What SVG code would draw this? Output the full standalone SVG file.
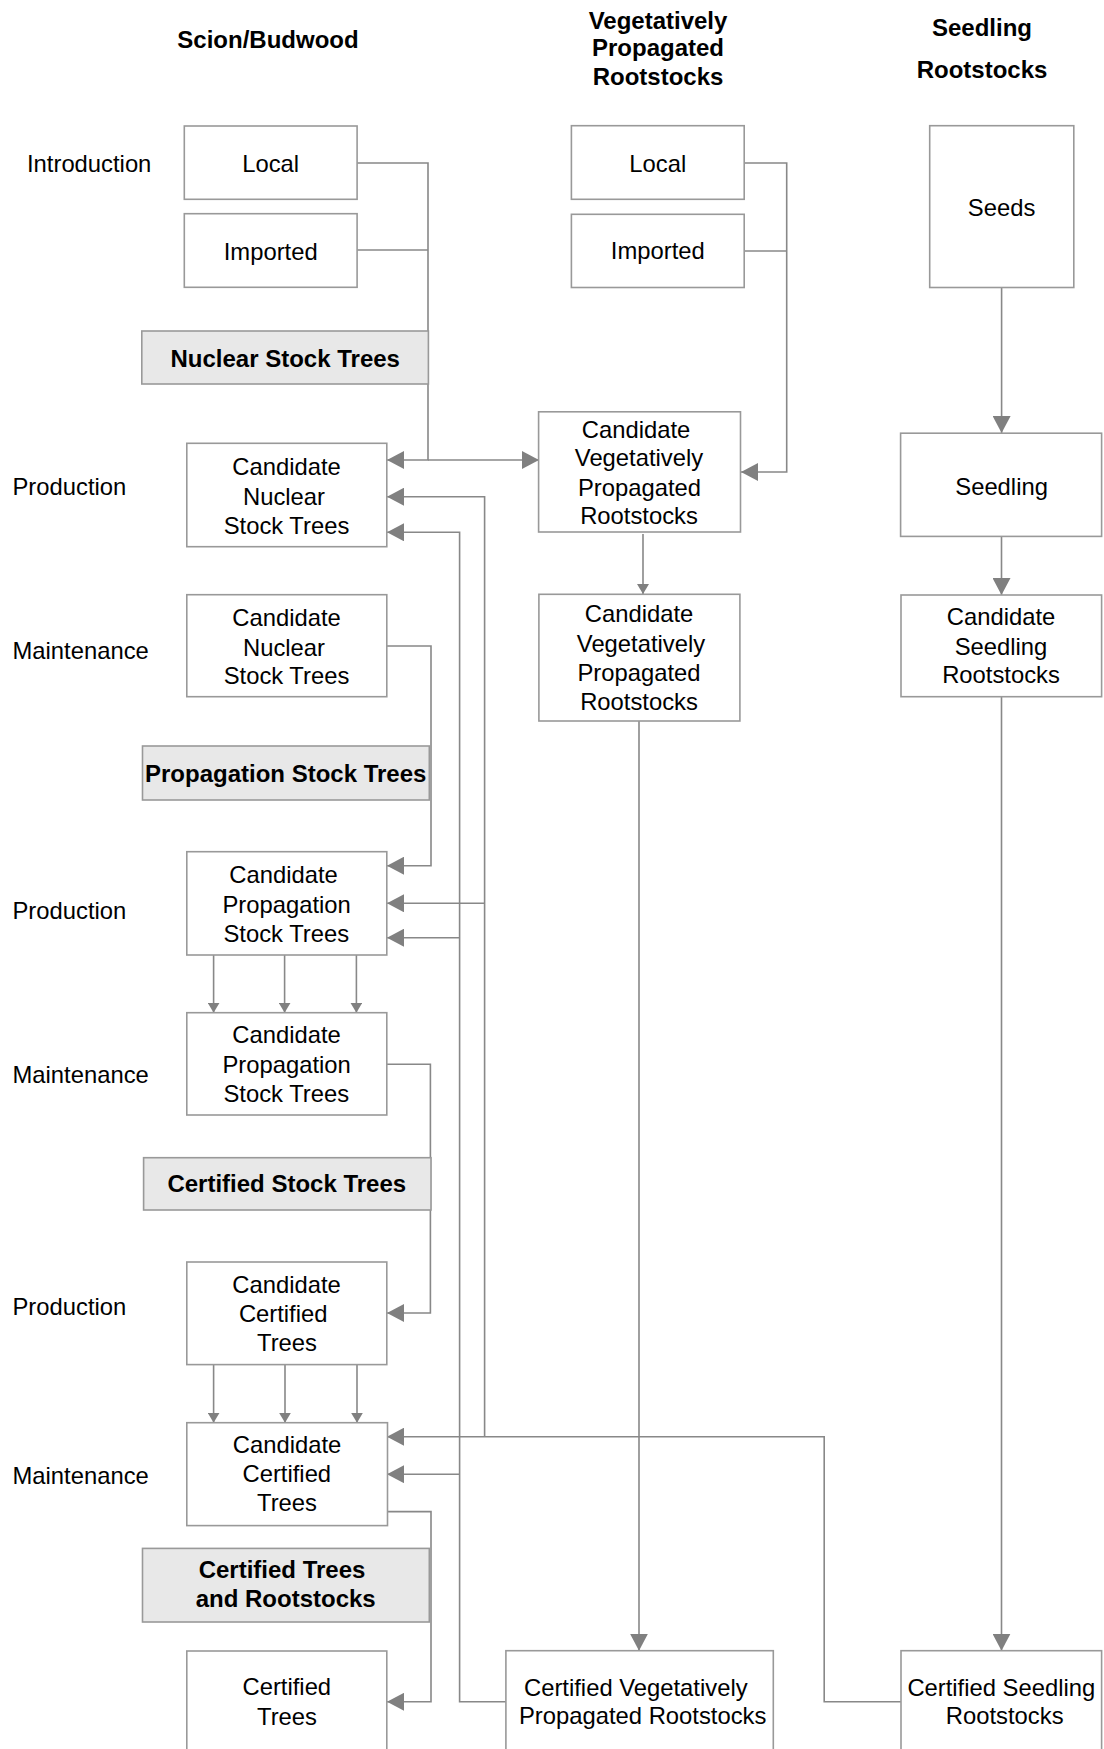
<svg xmlns="http://www.w3.org/2000/svg" width="1104" height="1749" viewBox="0 0 1104 1749">
<style>
.box{fill:#fff;stroke:#999;stroke-width:1.6}
.hdr{fill:#e8e8e8;stroke:#999;stroke-width:1.6}
.t{font-family:"Liberation Sans",Arial,sans-serif;font-size:23.8px;fill:#000;text-anchor:middle}
.b{font-family:"Liberation Sans",Arial,sans-serif;font-size:24px;font-weight:bold;fill:#000;text-anchor:middle}
.lbl{font-family:"Liberation Sans",Arial,sans-serif;font-size:23.8px;fill:#000}
.c{fill:none;stroke:#888;stroke-width:1.6}
.big{marker-end:url(#ab)}
.sm{marker-end:url(#as)}
</style>
<defs>
<marker id="ab" markerUnits="userSpaceOnUse" markerWidth="18" markerHeight="18" refX="17" refY="9" orient="auto"><path d="M0,0 L17,9 L0,18 z" fill="#808080"/></marker>
<marker id="as" markerUnits="userSpaceOnUse" markerWidth="11" markerHeight="12" refX="10" refY="6" orient="auto"><path d="M0,0 L10,6 L0,12 z" fill="#808080"/></marker>
</defs>
<rect width="1104" height="1749" fill="#fff"/>

<g id="headers">
<text class="b" x="268" y="48">Scion/Budwood</text>
<text class="b" x="658" y="28.6">Vegetatively</text>
<text class="b" x="658" y="56.4">Propagated</text>
<text class="b" x="658" y="85">Rootstocks</text>
<text class="b" x="982" y="35.7">Seedling</text>
<text class="b" x="982" y="78">Rootstocks</text>
</g>

<g id="stage-labels">
<text class="lbl" x="27" y="172">Introduction</text>
<text class="lbl" x="12.5" y="495">Production</text>
<text class="lbl" x="12.5" y="659">Maintenance</text>
<text class="lbl" x="12.5" y="919">Production</text>
<text class="lbl" x="12.5" y="1083">Maintenance</text>
<text class="lbl" x="12.5" y="1315">Production</text>
<text class="lbl" x="12.5" y="1484">Maintenance</text>
</g>

<g id="connectors">
<path class="c big" d="M357,163 H428 V460 H387"/>
<path class="c" d="M357,250 H428"/>
<path class="c big" d="M428,460 H539"/>
<path class="c big" d="M744,163 H786.7 V472 H741"/>
<path class="c" d="M744,251 H786.7"/>
<path class="c big" d="M1001.6,288 V433"/>
<path class="c sm" d="M643,534 V594"/>
<path class="c big" d="M1001.5,536.5 V595"/>
<path class="c big" d="M639,721 V1650.7"/>
<path class="c big" d="M1001.5,697 V1650.7"/>
<path class="c big" d="M387,646 H431 V865.7 H387"/>
<path class="c big" d="M901,1701.7 H824.2 V1436.7 H387"/>
<path class="c big" d="M484.6,1436.7 V496.7 H387"/>
<path class="c big" d="M484.6,903.3 H387"/>
<path class="c big" d="M506,1701.8 H459.6 V532.3 H387"/>
<path class="c big" d="M459.6,937.7 H387"/>
<path class="c big" d="M459.6,1474.2 H387"/>
<path class="c sm" d="M213.6,955 V1012.7"/>
<path class="c sm" d="M284.6,955 V1012.7"/>
<path class="c sm" d="M356.4,955 V1012.7"/>
<path class="c big" d="M387,1064.3 H430.4 V1313 H387"/>
<path class="c sm" d="M213.6,1364.6 V1422.7"/>
<path class="c sm" d="M285,1364.6 V1422.7"/>
<path class="c sm" d="M357,1364.6 V1422.7"/>
<path class="c big" d="M387,1511.6 H431 V1701.8 H387"/>
</g>

<g id="scion-local"><rect class="box" x="184.3" y="126" width="172.8" height="73.3"/><text class="t" x="270.7" y="172">Local</text></g>
<g id="scion-imported"><rect class="box" x="184.3" y="213.7" width="172.8" height="73.6"/><text class="t" x="270.7" y="259.5">Imported</text></g>
<g id="nuclear-stock-trees"><rect class="hdr" x="141.8" y="331" width="286.6" height="53"/><text class="b" x="285.2" y="366.5">Nuclear Stock Trees</text></g>
<g id="vp-local"><rect class="box" x="571.4" y="125.7" width="172.8" height="73.6"/><text class="t" x="657.8" y="172">Local</text></g>
<g id="vp-imported"><rect class="box" x="571.4" y="214.3" width="172.8" height="73.2"/><text class="t" x="657.8" y="259">Imported</text></g>
<g id="seeds"><rect class="box" x="929.7" y="125.7" width="144.1" height="161.8"/><text class="t" x="1001.6" y="216">Seeds</text></g>

<g id="cand-nuclear-prod"><rect class="box" x="186.8" y="443.3" width="200" height="103.4"/>
<text class="t" x="286.5" y="475">Candidate</text><text class="t" x="284" y="505">Nuclear</text><text class="t" x="286.5" y="534">Stock Trees</text></g>
<g id="cand-vp-prod"><rect class="box" x="538.6" y="411.8" width="201.9" height="120.2"/>
<text class="t" x="636" y="437.5">Candidate</text><text class="t" x="639" y="466">Vegetatively</text><text class="t" x="639.5" y="495.5">Propagated</text><text class="t" x="639" y="524">Rootstocks</text></g>
<g id="seedling"><rect class="box" x="900.6" y="433.2" width="201" height="103.2"/><text class="t" x="1001.6" y="494.5">Seedling</text></g>

<g id="cand-nuclear-maint"><rect class="box" x="186.8" y="594.7" width="200" height="102"/>
<text class="t" x="286.5" y="625.7">Candidate</text><text class="t" x="284" y="655.7">Nuclear</text><text class="t" x="286.5" y="683.5">Stock Trees</text></g>
<g id="cand-vp-maint"><rect class="box" x="538.9" y="594.3" width="201" height="126.7"/>
<text class="t" x="639" y="622.3">Candidate</text><text class="t" x="641" y="651.7">Vegetatively</text><text class="t" x="639" y="680.7">Propagated</text><text class="t" x="639" y="710">Rootstocks</text></g>
<g id="cand-seedling"><rect class="box" x="901" y="595" width="200.6" height="101.7"/>
<text class="t" x="1001" y="625">Candidate</text><text class="t" x="1001" y="655">Seedling</text><text class="t" x="1001" y="683.3">Rootstocks</text></g>

<g id="propagation-stock-trees"><rect class="hdr" x="142.5" y="746" width="286.8" height="54"/><text class="b" x="285.7" y="781.7">Propagation Stock Trees</text></g>

<g id="cand-prop-prod"><rect class="box" x="186.8" y="851.7" width="200" height="103.3"/>
<text class="t" x="283.6" y="882.7">Candidate</text><text class="t" x="286.6" y="912.7">Propagation</text><text class="t" x="286.3" y="941.7">Stock Trees</text></g>
<g id="cand-prop-maint"><rect class="box" x="186.8" y="1012.7" width="200" height="102.3"/>
<text class="t" x="286.6" y="1043.3">Candidate</text><text class="t" x="286.6" y="1073.3">Propagation</text><text class="t" x="286.3" y="1101.7">Stock Trees</text></g>

<g id="certified-stock-trees"><rect class="hdr" x="143.6" y="1157.7" width="287.4" height="52.3"/><text class="b" x="286.8" y="1191.7">Certified Stock Trees</text></g>

<g id="cand-cert-prod"><rect class="box" x="186.8" y="1262" width="200" height="102.6"/>
<text class="t" x="286.6" y="1292.8">Candidate</text><text class="t" x="283.2" y="1321.8">Certified</text><text class="t" x="287" y="1350.6">Trees</text></g>
<g id="cand-cert-maint"><rect class="box" x="186.8" y="1422.7" width="200.7" height="102.9"/>
<text class="t" x="287" y="1452.8">Candidate</text><text class="t" x="286.8" y="1481.9">Certified</text><text class="t" x="287" y="1511">Trees</text></g>

<g id="certified-trees-rootstocks"><rect class="hdr" x="142.5" y="1548.4" width="286.8" height="73.6"/>
<text class="b" x="282" y="1578">Certified Trees</text><text class="b" x="285.7" y="1607.2">and Rootstocks</text></g>

<g id="certified-trees"><rect class="box" x="186.8" y="1651" width="200" height="120"/>
<text class="t" x="286.8" y="1695.4">Certified</text><text class="t" x="287" y="1724.5">Trees</text></g>
<g id="certified-vp-rootstocks"><rect class="box" x="505.9" y="1650.7" width="267.4" height="120"/>
<text class="t" x="635.8" y="1696">Certified Vegetatively</text><text class="t" x="642.7" y="1724">Propagated Rootstocks</text></g>
<g id="certified-seedling-rootstocks"><rect class="box" x="901" y="1650.7" width="200.6" height="120"/>
<text class="t" x="1001.3" y="1696">Certified Seedling</text><text class="t" x="1004.7" y="1724">Rootstocks</text></g>
</svg>
